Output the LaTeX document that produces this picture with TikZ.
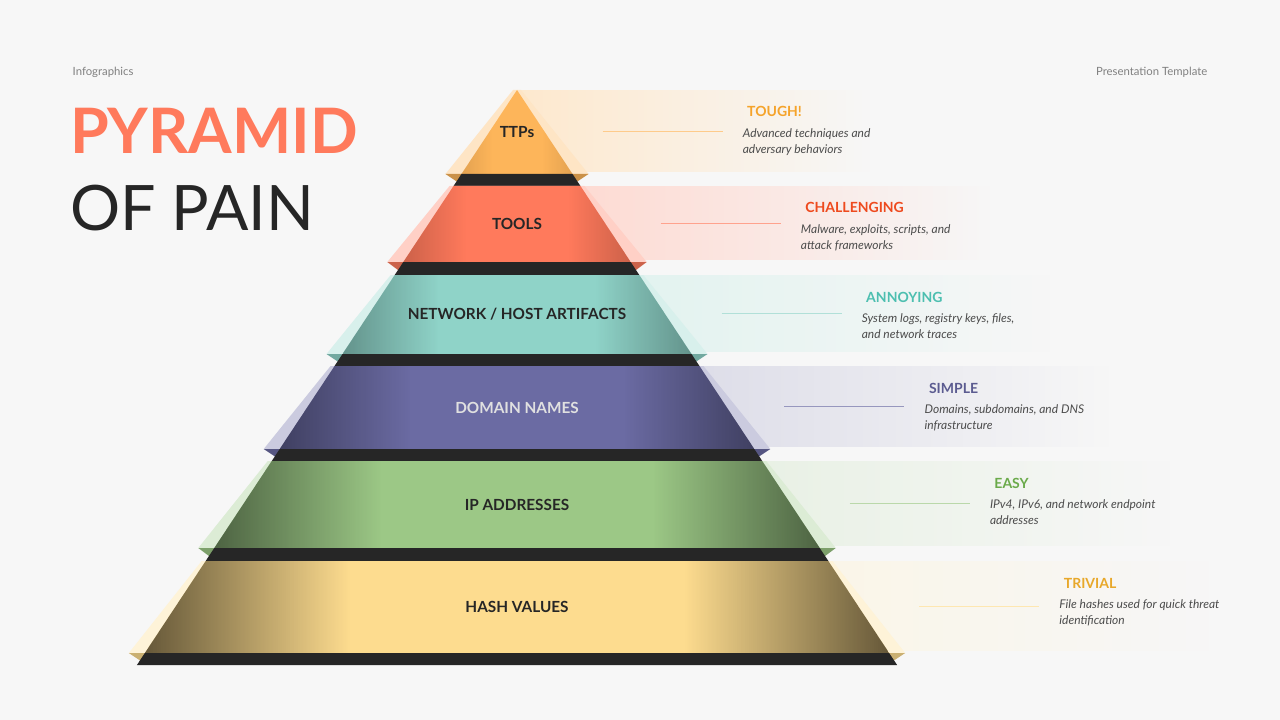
\documentclass[tikz,border=0pt]{standalone}
\usepackage{fontspec}
\setmainfont{Lato}
\usetikzlibrary{fadings,positioning}
\definecolor{bgc}{HTML}{F7F7F7}
\definecolor{darkband}{HTML}{262626}
\definecolor{coral}{HTML}{FF7A5C}
\definecolor{cTTP}{HTML}{FDB55A}
\definecolor{cTOOL}{HTML}{FF7A5C}
\definecolor{cNET}{HTML}{8FD3C8}
\definecolor{cDOM}{HTML}{6B6BA3}
\definecolor{cIP}{HTML}{9CC886}
\definecolor{cHASH}{HTML}{FDDC8F}
\definecolor{hTTP}{HTML}{F5A32A}
\definecolor{hTOOL}{HTML}{EE4A1E}
\definecolor{hNET}{HTML}{4DBFB0}
\definecolor{hDOM}{HTML}{5B5B90}
\definecolor{hIP}{HTML}{6AAA4A}
\definecolor{hHASH}{HTML}{E8A82A}
\tikzset{
  tier label/.style={font=\bfseries\fontsize{11.5}{13}\selectfont},
  level title/.style={anchor=base west,font=\bfseries\fontsize{10.5}{12}\selectfont},
  level text/.style={anchor=north west,align=left,text=black!70,
    font=\itshape\fontsize{9}{12}\selectfont,inner sep=0pt},
  leader/.style={line width=0.4pt},
}
\begin{document}
\begin{tikzpicture}[x=0.75pt,y=-0.75pt]
    % background
    \fill[bgc] (0,0) rectangle (1280,720);
    \useasboundingbox (0,0) rectangle (1280,720);
    % headings
    \node[anchor=west,text=black!50,font=\fontsize{8.5}{10}\selectfont] (hdl) at (68,72) {Infographics};
    \node[anchor=east,text=black!50,font=\fontsize{8.5}{10}\selectfont] (hdr) at (1212,72) {Presentation Template};
    \node[anchor=base west,inner sep=0pt,text=coral,font=\bfseries\fontsize{47}{50}\selectfont] (ttl1) at (70,154) {PYRAMID};
    \node[anchor=base west,inner sep=0pt,text=black!85,font=\fontsize{47}{50}\selectfont] (ttl2) at (70,230) {OF PAIN};
    % tiers: top, bottom of colour, bottom of band, banner end, fill, title colour, label colour, label, title, text
    \foreach \ya/\yb/\yc/\xe/\c/\h/\lc/\lab/\tit/\txt/\n in {
        90/174/186/870/cTTP/hTTP/black!85/{TTPs}/{TOUGH!}/{Advanced techniques and\\adversary behaviors}/1,
        186/262/275/990/cTOOL/hTOOL/black!85/{TOOLS}/{CHALLENGING}/{Malware, exploits, scripts, and\\attack frameworks}/2,
        275/354/366/1050/cNET/hNET/black!85/{NETWORK {/} HOST ARTIFACTS}/{ANNOYING}/{System logs, registry keys, files,\\and network traces}/3,
        366/449/461/1110/cDOM/hDOM/white!88!black/{DOMAIN NAMES}/{SIMPLE}/{Domains, subdomains, and DNS\\infrastructure}/4,
        461/548/561/1170/cIP/hIP/black!85/{IP ADDRESSES}/{EASY}/{IPv4, IPv6, and network endpoint\\addresses}/5,
        561/653/665/1210/cHASH/hHASH/black!85/{HASH VALUES}/{TRIVIAL}/{File hashes used for quick threat\\identification}/6} {
        \pgfmathsetmacro\wa{(\ya-90)*0.661}
        \pgfmathsetmacro\wb{(\yb-90)*0.661}
        \pgfmathsetmacro\wc{(\yc-90)*0.661}
        \pgfmathsetmacro\ym{(\ya+\yb)/2}
        \pgfmathsetmacro\xt{517+\wb+20}
        \pgfmathsetmacro\xs{517+\wb+150}
        \pgfmathsetmacro\op{0.1*\n}
        % banner
        \fill[\c!30,path fading=east] (517,\ya) rectangle (\xe,\yb-2);
        % wings
        \fill[\c!35] (517-\wa-4,\ya) -- (517+\wa+4,\ya) -- (517+\wb+16,\yb) -- (517-\wb-16,\yb) -- cycle;
        \fill[\c!80!black] (517-\wb-16,\yb) -- (517-\wb+4,\yb) -- (517-\wb-4,\yc-4) -- cycle;
        \fill[\c!80!black] (517+\wb+16,\yb) -- (517+\wb-4,\yb) -- (517+\wb+4,\yc-4) -- cycle;
        % face
        \fill[\c] (517-\wa,\ya) -- (517+\wa,\ya) -- (517+\wb,\yb) -- (517-\wb,\yb) -- cycle;
        \begin{scope}
            \clip (517-\wa,\ya) -- (517+\wa,\ya) -- (517+\wb,\yb) -- (517-\wb,\yb) -- cycle;
            \fill[black,opacity=\op,path fading=east] (517-\wb,\ya) rectangle (517-\wb*0.45,\yb);
            \fill[black,opacity=\op,path fading=west] (517+\wb*0.45,\ya) rectangle (517+\wb,\yb);
        \end{scope}
        % dark band
        \fill[darkband] (517-\wb,\yb) -- (517+\wb,\yb) -- (517+\wc,\yc) -- (517-\wc,\yc) -- cycle;
        \node[tier label,text=\lc] (t\n) at (517,\ym) {\lab};
        % right side texts
        \node[level title,text=\h] (h\n) at (\xs+20,\ya+27) {\tit};
        \node[level text] (d\n) at (\xs+20,\ya+38) {\txt};
        \coordinate (l\n) at (\xt+10,\ym-1);
        \coordinate (r\n) at (\xs,\ym-1);
        \draw[leader,\c!70] (l\n) -- (r\n);
    }
\end{tikzpicture}
\end{document}
